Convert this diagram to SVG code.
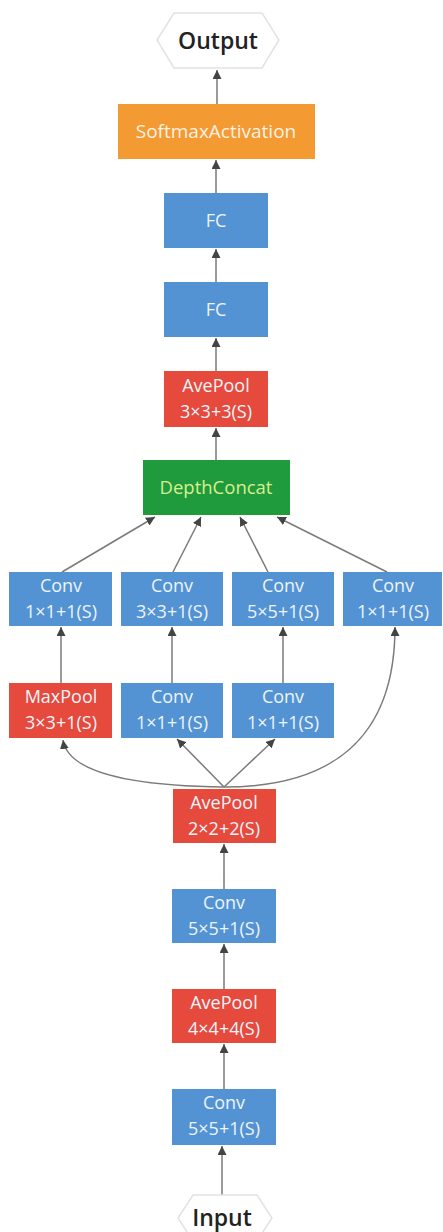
<svg xmlns="http://www.w3.org/2000/svg" width="443" height="1232" viewBox="0 0 443 1232">
<style>
.blue{fill:#5393d3}
.red{fill:#e64a3d}
.orange{fill:#f39a33}
.green{fill:#1f9a3c}
.hex{fill:#ffffff;stroke:#e2e2e2;stroke-width:1.5}
.t{font-family:"Open Sans","Noto Sans",sans-serif;font-size:18px;fill:#eef4fb;text-anchor:middle}
.tg{font-family:"Open Sans","Noto Sans",sans-serif;font-size:18.5px;fill:#d8f08c;text-anchor:middle}
.ts{font-family:"Open Sans","Noto Sans",sans-serif;font-size:19px;fill:#fdf1e2;text-anchor:middle}
.th{font-family:"Open Sans","Noto Sans",sans-serif;font-size:23px;font-weight:600;fill:#222;text-anchor:middle}
.c{fill:none;stroke:#7a7a7a;stroke-width:1.5}
</style>
<defs>
<marker id="a" viewBox="0 0 10 10" refX="10" refY="5" markerWidth="9" markerHeight="9" markerUnits="userSpaceOnUse" orient="auto">
<path d="M0,0 L10,5 L0,10 z" fill="#444"/>
</marker>
</defs>
<rect width="443" height="1232" fill="#ffffff"/>
<g id="connectors">
<path class="c" marker-end="url(#a)" d="M217,104 L217,70"/>
<path class="c" marker-end="url(#a)" d="M216,193 L216,160"/>
<path class="c" marker-end="url(#a)" d="M216,282 L216,249"/>
<path class="c" marker-end="url(#a)" d="M216,371 L216,338"/>
<path class="c" marker-end="url(#a)" d="M216,460 L216,428"/>
<path class="c" marker-end="url(#a)" d="M62,572 L155,517"/>
<path class="c" marker-end="url(#a)" d="M173,572 L201,517"/>
<path class="c" marker-end="url(#a)" d="M268,572 L240,517"/>
<path class="c" marker-end="url(#a)" d="M387,572 L277,517"/>
<path class="c" marker-end="url(#a)" d="M61,683 L61,627"/>
<path class="c" marker-end="url(#a)" d="M172,683 L172,627"/>
<path class="c" marker-end="url(#a)" d="M283,683 L283,627"/>
<path class="c" marker-end="url(#a)" d="M224,787 Q70,785 63,740"/>
<path class="c" marker-end="url(#a)" d="M224,787 L177,739"/>
<path class="c" marker-end="url(#a)" d="M224,787 L275,739"/>
<path class="c" marker-end="url(#a)" d="M224,787 C330,787 395,740 395,627"/>
<path class="c" marker-end="url(#a)" d="M224,889 L224,844"/>
<path class="c" marker-end="url(#a)" d="M224,989 L224,944"/>
<path class="c" marker-end="url(#a)" d="M224,1089 L224,1044"/>
<path class="c" marker-end="url(#a)" d="M222,1195 L222,1146"/>
</g>
<g id="output">
<polygon class="hex" points="157,40 174,13 262,13 279,40 262,68 174,68"/>
<text class="th" x="218" y="49">Output</text>
</g>
<g id="softmax">
<rect class="orange" x="118" y="104" width="197" height="55"/>
<text class="ts" x="216" y="138">SoftmaxActivation</text>
</g>
<g id="fc1">
<rect class="blue" x="164" y="193" width="104" height="55"/>
<text class="t" x="216" y="227">FC</text>
</g>
<g id="fc2">
<rect class="blue" x="164" y="282" width="104" height="55"/>
<text class="t" x="216" y="316">FC</text>
</g>
<g id="avepool3">
<rect class="red" x="164" y="371" width="104" height="56"/>
<text class="t" x="216" y="392">AvePool</text>
<text class="t" x="216" y="418">3×3+3(S)</text>
</g>
<g id="depthconcat">
<rect class="green" x="143" y="460" width="147" height="55"/>
<text class="tg" x="216" y="494">DepthConcat</text>
</g>
<g id="conv_a">
<rect class="blue" x="9" y="572" width="103" height="54"/>
<text class="t" x="61" y="592">Conv</text>
<text class="t" x="61" y="618">1×1+1(S)</text>
</g>
<g id="conv_b">
<rect class="blue" x="121" y="572" width="102" height="54"/>
<text class="t" x="172" y="592">Conv</text>
<text class="t" x="172" y="618">3×3+1(S)</text>
</g>
<g id="conv_c">
<rect class="blue" x="232" y="572" width="102" height="54"/>
<text class="t" x="283" y="592">Conv</text>
<text class="t" x="283" y="618">5×5+1(S)</text>
</g>
<g id="conv_d">
<rect class="blue" x="343" y="572" width="99" height="54"/>
<text class="t" x="393" y="592">Conv</text>
<text class="t" x="393" y="618">1×1+1(S)</text>
</g>
<g id="maxpool">
<rect class="red" x="9" y="683" width="103" height="55"/>
<text class="t" x="61" y="703">MaxPool</text>
<text class="t" x="61" y="729">3×3+1(S)</text>
</g>
<g id="conv_e">
<rect class="blue" x="121" y="683" width="102" height="55"/>
<text class="t" x="172" y="703">Conv</text>
<text class="t" x="172" y="729">1×1+1(S)</text>
</g>
<g id="conv_f">
<rect class="blue" x="232" y="683" width="102" height="55"/>
<text class="t" x="283" y="703">Conv</text>
<text class="t" x="283" y="729">1×1+1(S)</text>
</g>
<g id="avepool2">
<rect class="red" x="173" y="789" width="103" height="54"/>
<text class="t" x="224" y="809">AvePool</text>
<text class="t" x="224" y="835">2×2+2(S)</text>
</g>
<g id="conv5b">
<rect class="blue" x="172" y="889" width="104" height="54"/>
<text class="t" x="224" y="909">Conv</text>
<text class="t" x="224" y="935">5×5+1(S)</text>
</g>
<g id="avepool4">
<rect class="red" x="172" y="989" width="104" height="54"/>
<text class="t" x="224" y="1009">AvePool</text>
<text class="t" x="224" y="1035">4×4+4(S)</text>
</g>
<g id="conv5a">
<rect class="blue" x="172" y="1089" width="104" height="56"/>
<text class="t" x="224" y="1109">Conv</text>
<text class="t" x="224" y="1135">5×5+1(S)</text>
</g>
<g id="input">
<polygon class="hex" points="178,1218 193,1195 257,1195 272,1218 257,1241 193,1241"/>
<text class="th" x="222" y="1226">Input</text>
</g>
</svg>
